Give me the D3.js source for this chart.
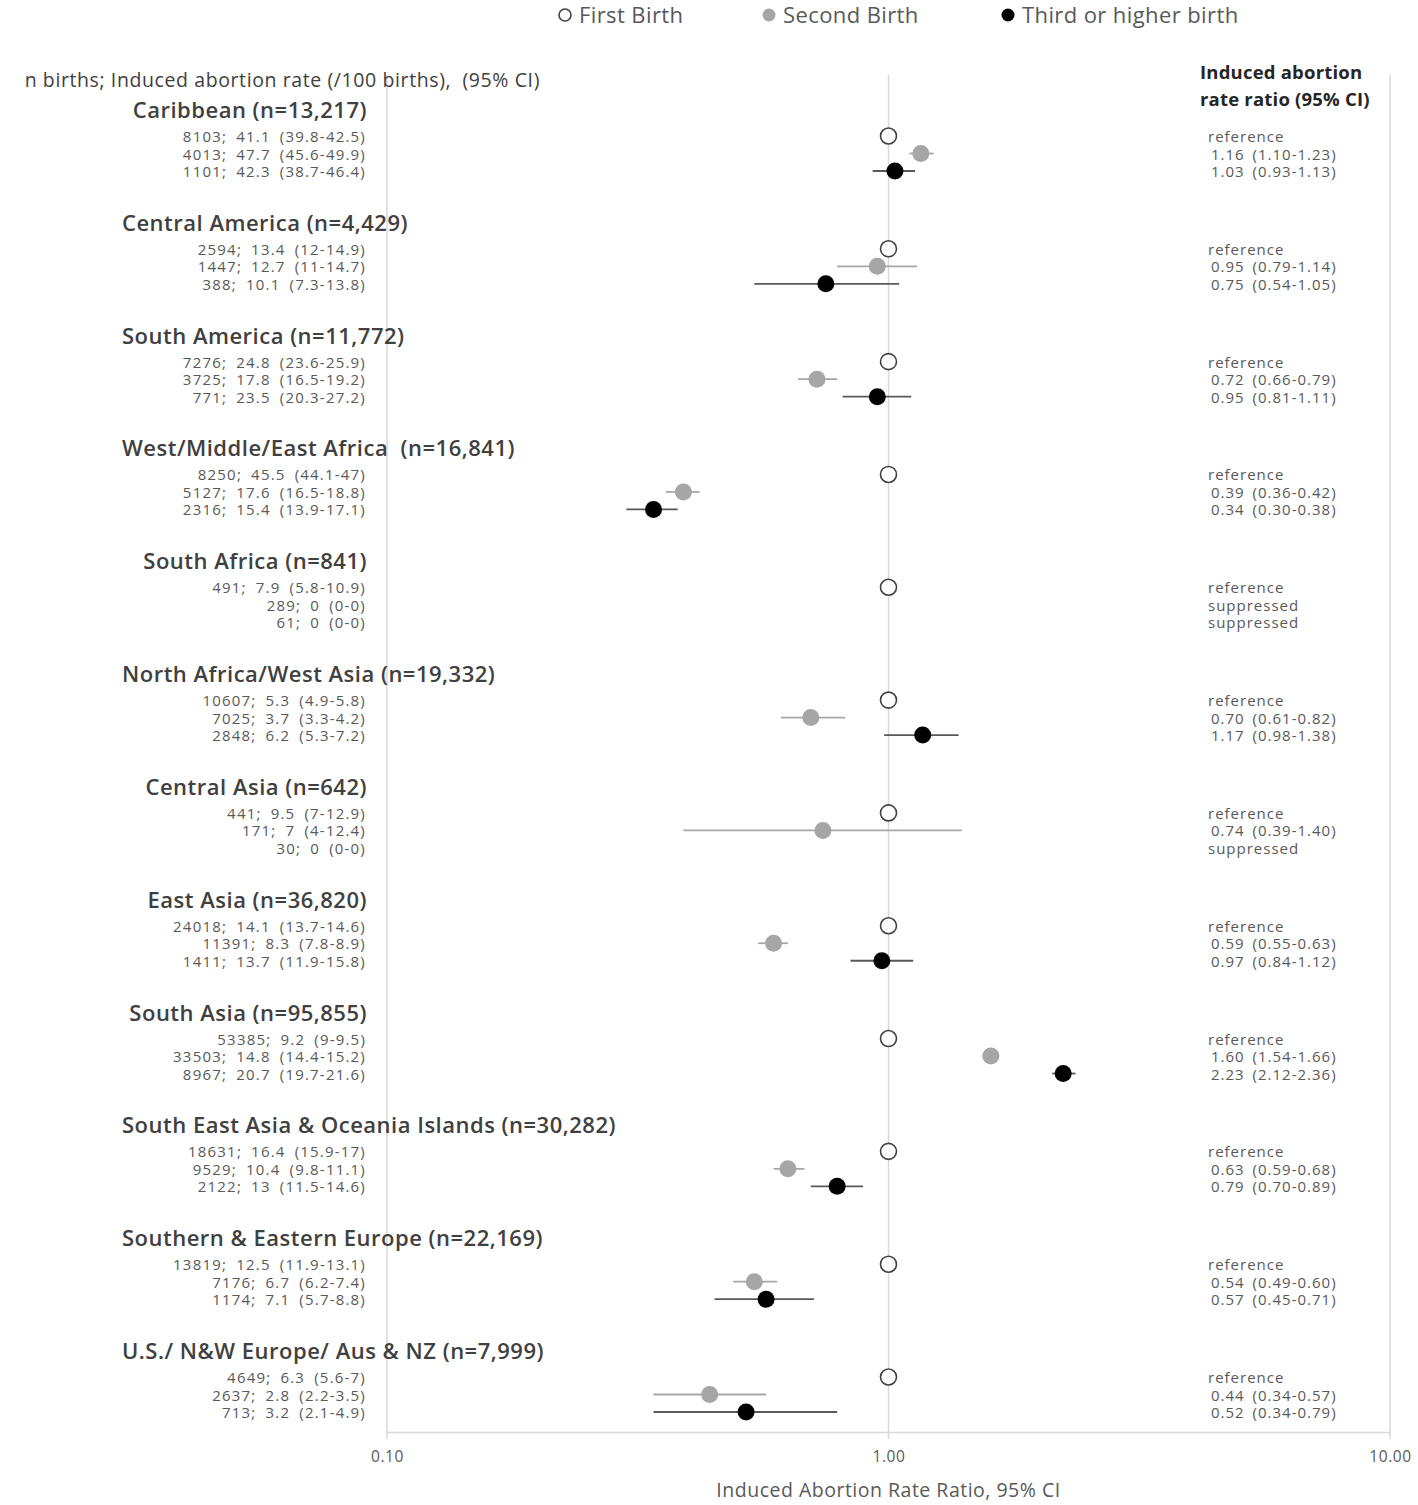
<!DOCTYPE html>
<html>
<head>
<meta charset="utf-8">
<script src="https://cdnjs.cloudflare.com/ajax/libs/d3/7.8.5/d3.min.js"></script>
<style>
  body { margin: 0; background: #fff; }
  svg { display: block; font-family: "Open Sans", sans-serif; }
  svg text { white-space: pre; }
</style>
</head>
<body>
<div id="chart"></div>
<script>
// region titles
const regions = [
  "Caribbean (n=13,217)",
  "Central America (n=4,429)",
  "South America (n=11,772)",
  "West/Middle/East Africa  (n=16,841)",
  "South Africa (n=841)",
  "North Africa/West Asia (n=19,332)",
  "Central Asia (n=642)",
  "East Asia (n=36,820)",
  "South Asia (n=95,855)",
  "South East Asia & Oceania Islands (n=30,282)",
  "Southern & Eastern Europe (n=22,169)",
  "U.S./ N&W Europe/ Aus & NZ (n=7,999)"
];

// n births; induced abortion rate (/100 births) (95% CI) -- first, second, third+
const rateLabels = [
  ["8103; 41.1 (39.8-42.5)", "4013; 47.7 (45.6-49.9)", "1101; 42.3 (38.7-46.4)"],
  ["2594; 13.4 (12-14.9)", "1447; 12.7 (11-14.7)", "388; 10.1 (7.3-13.8)"],
  ["7276; 24.8 (23.6-25.9)", "3725; 17.8 (16.5-19.2)", "771; 23.5 (20.3-27.2)"],
  ["8250; 45.5 (44.1-47)", "5127; 17.6 (16.5-18.8)", "2316; 15.4 (13.9-17.1)"],
  ["491; 7.9 (5.8-10.9)", "289; 0 (0-0)", "61; 0 (0-0)"],
  ["10607; 5.3 (4.9-5.8)", "7025; 3.7 (3.3-4.2)", "2848; 6.2 (5.3-7.2)"],
  ["441; 9.5 (7-12.9)", "171; 7 (4-12.4)", "30; 0 (0-0)"],
  ["24018; 14.1 (13.7-14.6)", "11391; 8.3 (7.8-8.9)", "1411; 13.7 (11.9-15.8)"],
  ["53385; 9.2 (9-9.5)", "33503; 14.8 (14.4-15.2)", "8967; 20.7 (19.7-21.6)"],
  ["18631; 16.4 (15.9-17)", "9529; 10.4 (9.8-11.1)", "2122; 13 (11.5-14.6)"],
  ["13819; 12.5 (11.9-13.1)", "7176; 6.7 (6.2-7.4)", "1174; 7.1 (5.7-8.8)"],
  ["4649; 6.3 (5.6-7)", "2637; 2.8 (2.2-3.5)", "713; 3.2 (2.1-4.9)"]
];

// rate ratios (null = suppressed); first birth is the reference (1.00)
const secondRR = [1.16, 0.95, 0.72, 0.39, null, 0.70, 0.74, 0.59, 1.60, 0.63, 0.54, 0.44];
const secondLo = [1.10, 0.79, 0.66, 0.36, null, 0.61, 0.39, 0.55, 1.54, 0.59, 0.49, 0.34];
const secondHi = [1.23, 1.14, 0.79, 0.42, null, 0.82, 1.40, 0.63, 1.66, 0.68, 0.60, 0.57];
const thirdRR  = [1.03, 0.75, 0.95, 0.34, null, 1.17, null, 0.97, 2.23, 0.79, 0.57, 0.52];
const thirdLo  = [0.93, 0.54, 0.81, 0.30, null, 0.98, null, 0.84, 2.12, 0.70, 0.45, 0.34];
const thirdHi  = [1.13, 1.05, 1.11, 0.38, null, 1.38, null, 1.12, 2.36, 0.89, 0.71, 0.79];

const series = ["First Birth", "Second Birth", "Third or higher birth"];
const xTicks = [0.1, 1, 10];

const W = 1418, H = 1505;
const svg = d3.select("#chart").append("svg").attr("width", W).attr("height", H);

const x = d3.scaleLog().domain([0.1, 10]).range([387, 1390]);
const yGroup = d3.scalePoint().domain(d3.range(regions.length)).range([110, 1351]);
const rowY = (g, k) => yGroup(g) + 26 + k * 17.5;
const plotTop = 75, plotBottom = 1432;

const style = [
  {fill: "#fff", stroke: "#404040", sw: 1.6, r: 8, line: "#404040"},
  {fill: "#a6a6a6", stroke: "#a6a6a6", sw: 0, r: 8.5, line: "#a6a6a6"},
  {fill: "#000", stroke: "#000", sw: 0, r: 8.5, line: "#595959"}
];

// gridlines
svg.append("g").selectAll("line").data(xTicks).join("line")
  .attr("x1", d => x(d)).attr("x2", d => x(d))
  .attr("y1", plotTop).attr("y2", plotBottom + 7)
  .attr("stroke", "#d9d9d9").attr("stroke-width", 1.5);

// x axis
const axis = svg.append("g").attr("transform", `translate(0,${plotBottom})`)
  .call(d3.axisBottom(x).tickValues(xTicks).tickFormat(d3.format(".2f")).tickSize(0).tickPadding(19));
axis.select(".domain").attr("stroke", "#d9d9d9").attr("stroke-width", 1.5);
axis.selectAll("text").attr("fill", "#595959").style("font-size", "15.5px")
  .style("font-family", "Open Sans").style("letter-spacing", "0.6px");

svg.append("text").attr("x", x(1)).attr("y", 1497).attr("text-anchor", "middle")
  .attr("fill", "#595959").style("font-size", "19.5px").style("letter-spacing", "0.5px")
  .text("Induced Abortion Rate Ratio, 95% CI");

// headers
svg.append("text").attr("x", 540).attr("y", 87).attr("text-anchor", "end")
  .attr("fill", "#404040").style("font-size", "19.5px").style("letter-spacing", "0.6px")
  .text("n births; Induced abortion rate (/100 births),  (95% CI)");
const hdr = svg.append("text").attr("x", 1200).attr("fill", "#262626")
  .style("font-size", "18.5px").style("font-weight", 700).style("letter-spacing", "0.2px");
hdr.append("tspan").attr("x", 1200).attr("y", 79).text("Induced abortion");
hdr.append("tspan").attr("x", 1200).attr("y", 106).text("rate ratio (95% CI)");

// legend
const legX = [565, 769, 1008];
const leg = svg.append("g").selectAll("g").data(series).join("g")
  .attr("transform", (d, i) => `translate(${legX[i]},15)`);
leg.append("circle").attr("r", (d, i) => i === 0 ? 6 : 6.5)
  .attr("fill", (d, i) => style[i].fill).attr("stroke", (d, i) => style[i].stroke)
  .attr("stroke-width", (d, i) => style[i].sw);
leg.append("text").attr("x", 14).attr("y", 8).attr("fill", "#595959")
  .style("font-size", "22px").style("letter-spacing", "0.4px").text(d => d);

// groups
const groups = svg.append("g").selectAll("g").data(regions).join("g");
groups.append("text")
  .attr("y", (d, i) => yGroup(i) + 8)
  .attr("fill", "#404040").style("font-size", "22px").style("font-weight", 600)
  .style("letter-spacing", "0.5px")
  .text(d => d)
  .attr("x", function() { return Math.max(122, 367 - this.getComputedTextLength()); });

groups.each(function(name, g) {
  const grp = d3.select(this);
  grp.selectAll("text.rate").data(rateLabels[g]).join("text").attr("class", "rate")
    .attr("x", 366).attr("y", (d, k) => rowY(g, k) + 6)
    .attr("text-anchor", "end").attr("fill", "#595959").style("font-size", "15px")
    .style("letter-spacing", "1.2px").style("word-spacing", "4px")
    .text(d => d);

  const rr = [
    {v: 1, lo: null, hi: null},
    {v: secondRR[g], lo: secondLo[g], hi: secondHi[g]},
    {v: thirdRR[g], lo: thirdLo[g], hi: thirdHi[g]}
  ];
  const rrText = rr.map((d, k) => k === 0 ? "reference"
    : d.v == null ? "suppressed"
    : `${d.v.toFixed(2)} (${d.lo.toFixed(2)}-${d.hi.toFixed(2)})`);
  grp.selectAll("text.rr").data(rrText).join("text").attr("class", "rr")
    .attr("x", (d, k) => k === 0 || rr[k].v == null ? 1208 : 1211)
    .attr("y", (d, k) => rowY(g, k) + 6)
    .attr("fill", "#595959").style("font-size", "15px")
    .style("letter-spacing", "1px").style("word-spacing", "3px").text(d => d);

  const pts = rr.map((d, k) => ({...d, k})).filter(d => d.v != null);
  grp.selectAll("line.ci").data(pts.filter(d => d.lo != null)).join("line").attr("class", "ci")
    .attr("x1", d => x(d.lo)).attr("x2", d => x(d.hi))
    .attr("y1", d => rowY(g, d.k)).attr("y2", d => rowY(g, d.k))
    .attr("stroke", d => style[d.k].line).attr("stroke-width", 1.8);
  grp.selectAll("circle").data(pts).join("circle")
    .attr("cx", d => x(d.v)).attr("cy", d => rowY(g, d.k))
    .attr("r", d => style[d.k].r)
    .attr("fill", d => style[d.k].fill).attr("stroke", d => style[d.k].stroke)
    .attr("stroke-width", d => style[d.k].sw);
});
</script>
</body>
</html>
